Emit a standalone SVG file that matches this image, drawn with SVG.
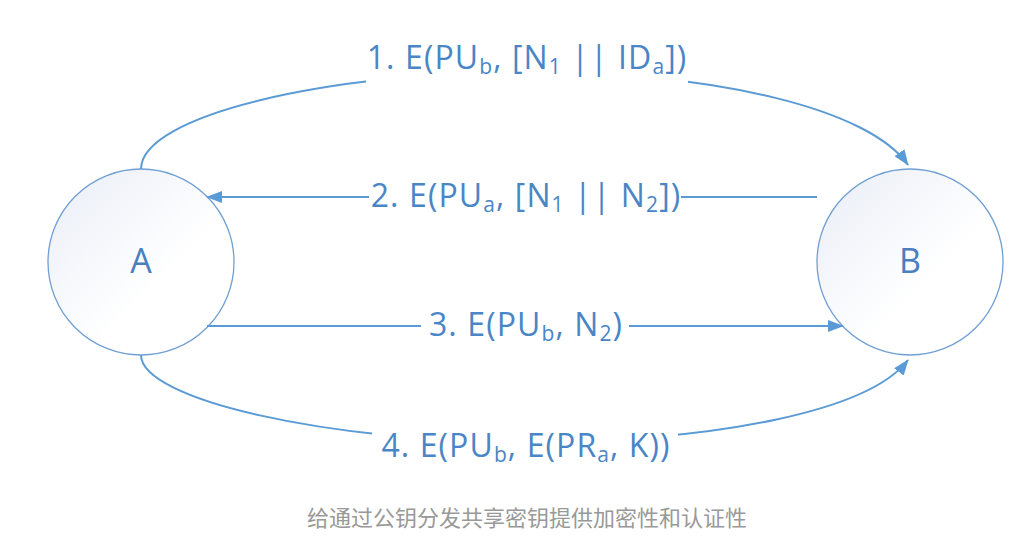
<svg xmlns="http://www.w3.org/2000/svg" width="1029" height="543" viewBox="0 0 1029 543">
<style>
.node{stroke:#6f9fd3;stroke-width:1.3;fill:url(#g)}
.nl{font-family:"Open Sans","Noto Sans",sans-serif;font-size:34px;fill:#4a7fbf;text-anchor:middle}
.conn{fill:none;stroke:#5b9bd5;stroke-width:2}
.lab{font-family:"Open Sans","Noto Sans",sans-serif;font-size:32px;fill:#4a86c6;text-anchor:middle;letter-spacing:1.1px}
.sub{font-size:21px}
.bg{fill:#fff}
.cap{font-family:"Noto Sans CJK SC",sans-serif;font-size:22px;fill:#999;text-anchor:middle}
</style>
<defs>
<linearGradient id="g" x1="0" y1="0" x2="1" y2="1">
<stop offset="0" stop-color="#e9edf6"/>
<stop offset="0.6" stop-color="#ffffff"/>
</linearGradient>
<marker id="ah" viewBox="0 0 16 12" refX="15" refY="6" markerWidth="16" markerHeight="12" markerUnits="userSpaceOnUse" orient="auto">
<path d="M0,0 L16,6 L0,12 Z" fill="#5b9bd5"/>
</marker>
</defs>
<rect width="1029" height="543" fill="#fff"/>
<g id="nodeA"><circle class="node" cx="141" cy="262" r="93"/><text class="nl" x="141" y="273">A</text></g>
<g id="nodeB"><circle class="node" cx="910" cy="262" r="93"/><text class="nl" x="910" y="273">B</text></g>
<g id="connectors">
<path class="conn" marker-end="url(#ah)" d="M141,169 C141,115 330,72 525,72 C720,72 870,110 908,165"/>
<path class="conn" marker-end="url(#ah)" d="M817,197 L207,197"/>
<path class="conn" marker-end="url(#ah)" d="M207,326 L843,326"/>
<path class="conn" marker-end="url(#ah)" d="M141,355 C141,400 330,442 525,442 C720,442 870,410 908,360"/>
<rect class="bg" x="366" y="44" width="322" height="44"/>
<rect class="bg" x="369" y="174" width="312" height="44"/>
<rect class="bg" x="421" y="303" width="208" height="44"/>
<rect class="bg" x="372" y="420" width="306" height="44"/>
<text class="lab" x="527" y="69">1. E(PU<tspan class="sub" dy="5">b</tspan><tspan dy="-5">, [N</tspan><tspan class="sub" dy="5">1</tspan><tspan dy="-5"> || ID</tspan><tspan class="sub" dy="5">a</tspan><tspan dy="-5">])</tspan></text>
<text class="lab" x="526" y="207">2. E(PU<tspan class="sub" dy="5">a</tspan><tspan dy="-5">, [N</tspan><tspan class="sub" dy="5">1</tspan><tspan dy="-5"> || N</tspan><tspan class="sub" dy="5">2</tspan><tspan dy="-5">])</tspan></text>
<text class="lab" x="526" y="336">3. E(PU<tspan class="sub" dy="5">b</tspan><tspan dy="-5">, N</tspan><tspan class="sub" dy="5">2</tspan><tspan dy="-5">)</tspan></text>
<text class="lab" x="526" y="457">4. E(PU<tspan class="sub" dy="5">b</tspan><tspan dy="-5">, E(PR</tspan><tspan class="sub" dy="5">a</tspan><tspan dy="-5">, K))</tspan></text>
</g>
<text class="cap" x="527" y="526">给通过公钥分发共享密钥提供加密性和认证性</text>
</svg>
